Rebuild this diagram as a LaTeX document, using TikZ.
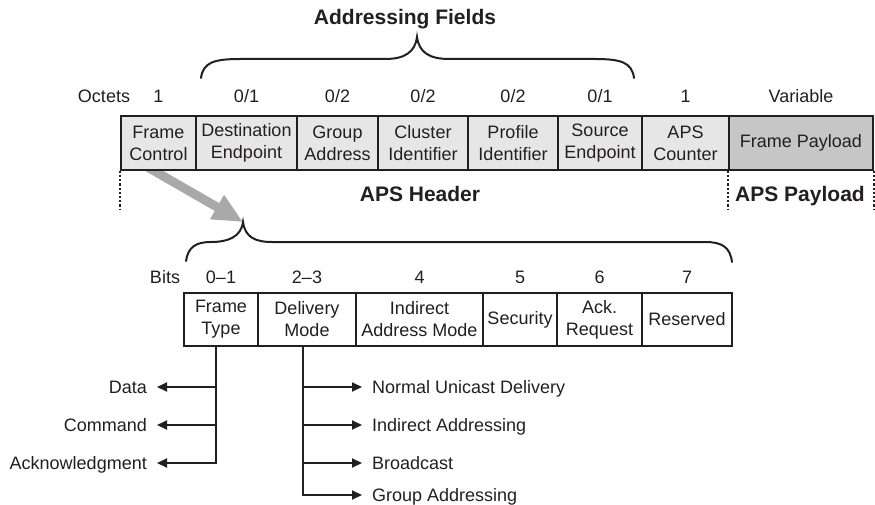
\documentclass[tikz,border=0pt]{standalone}
\usepackage{fontspec}
\setmainfont{Liberation Sans}
\usetikzlibrary{arrows.meta,calc}
\definecolor{ink}{HTML}{231F20}
\definecolor{cellgray}{HTML}{E6E6E6}
\definecolor{paygray}{HTML}{C6C6C6}
\definecolor{arrowgray}{HTML}{A9A9A9}
\begin{document}
\begin{tikzpicture}[x=1pt, y=-1pt, color=ink,
    every node/.style={font=\fontsize{18}{22}\selectfont, text=ink},
    octet/.style={rectangle, draw=ink, line width=1.6pt, fill=cellgray, minimum height=54pt, inner sep=0pt, align=center},
    bitfield/.style={rectangle, draw=ink, line width=1.6pt, fill=white, minimum height=53pt, inner sep=0pt, align=center},
    title/.style={font=\fontsize{21}{25}\selectfont\bfseries, anchor=base},
    size/.style={anchor=base},
    brace/.style={line width=2pt, line cap=round},
    tree/.style={line width=2pt, -{Triangle[length=10pt,width=9pt]}},
    leafl/.style={anchor=east, inner xsep=10pt, inner ysep=0pt, text height=13pt, text depth=0pt},
    leafr/.style={anchor=west, inner xsep=10pt, inner ysep=0pt, text height=13pt, text depth=0pt}
]
\useasboundingbox (0,0) rectangle (875,505);

% Brace tips
\coordinate (bt) at (243,222);
\coordinate (gt) at (137,161);

% Frame Control -> frame control bits
\draw[line width=9pt, arrowgray, -{Triangle[length=30pt,width=26pt]}] (gt) -- (bt);

% APS frame
\node[octet, minimum width=75pt] (fc) at (158.5,143) {Frame\\Control};
\node[octet, minimum width=101pt] (de) at (246.5,143) {Destination\\Endpoint};
\node[octet, minimum width=81pt] (ga) at (337.5,143) {Group\\Address};
\node[octet, minimum width=90pt] (ci) at (423,143) {Cluster\\Identifier};
\node[octet, minimum width=90pt] (pi) at (513,143) {Profile\\Identifier};
\node[octet, minimum width=84pt] (se) at (600,143) {Source\\Endpoint};
\node[octet, minimum width=87pt] (ac) at (685.5,143) {APS\\Counter};
\node[octet, minimum width=144pt, fill=paygray] (fp) at (801,143) {Frame Payload};

% Octet sizes
\node[size] (octets) at (104,103) {Octets};
\node[size] at (fc |- 0,103) {1};
\node[size] at (de |- 0,103) {0/1};
\node[size] at (ga |- 0,103) {0/2};
\node[size] at (ci |- 0,103) {0/2};
\node[size] at (pi |- 0,103) {0/2};
\node[size] at (se |- 0,103) {0/1};
\node[size] at (ac |- 0,103) {1};
\node[size] at (fp |- 0,103) {Variable};

% Header / payload
\draw[dotted, line width=2.2pt] (fc.south west) -- ++(0,38);
\draw[dotted, line width=2.2pt] (fp.south west) -- ++(0,38);
\draw[dotted, line width=2.2pt] (fp.south east) -- ++(0,38);
\node[title] (hdr) at (420,202) {APS Header};
\node[title] (pay) at (800,202) {APS Payload};

% Addressing fields
\node[title] (addr) at (405,25) {Addressing Fields};
\draw[brace] (201,78) .. controls (203,62) and (215,59) .. (240,59) -- (385,59)
  .. controls (405,59) and (415,52) .. (417,37)
  .. controls (419,52) and (429,59) .. (449,59) -- (595,59)
  .. controls (620,59) and (632,62) .. (634,78);

% Frame control field
\draw[brace] (186,261) .. controls (188,247) and (196,242) .. (211,242)
  .. controls (228,242) and (241,237) .. (bt)
  .. controls (245,237) and (255,242) .. (272,242) -- (705,242)
  .. controls (722,242) and (730,247) .. (732,262);

\node[bitfield, minimum width=74pt] (ft) at (221,319.5) {Frame\\Type};
\node[bitfield, minimum width=98pt] (dm) at (307,319.5) {Delivery\\Mode};
\node[bitfield, minimum width=127pt] (ia) at (419.5,319.5) {Indirect\\Address Mode};
\node[bitfield, minimum width=74pt] (sec) at (520,319.5) {Security};
\node[bitfield, minimum width=85pt] (ack) at (599.5,319.5) {Ack.\\Request};
\node[bitfield, minimum width=90pt] (res) at (687,319.5) {Reserved};

% Bit numbers
\node[size] (bits) at (165,283) {Bits};
\node[size] at (ft |- 0,283) {0–1};
\node[size] at (dm |- 0,283) {2–3};
\node[size] at (ia |- 0,283) {4};
\node[size] at (sec |- 0,283) {5};
\node[size] at (ack |- 0,283) {6};
\node[size] at (res |- 0,283) {7};

% Frame type values
\node[leafl] (data) at (157,387) {Data};
\node[leafl] (cmd) at (157,425) {Command};
\node[leafl] (ackn) at (157,463) {Acknowledgment};
\coordinate (ftx) at ([xshift=-5pt]ft.south);
\draw[tree] (ftx) |- (ackn.east);
\foreach \leaf in {data,cmd}
  \draw[tree] (ftx |- \leaf.east) -- (\leaf.east);

% Delivery mode values
\node[leafr] (uni) at (362,387) {Normal Unicast Delivery};
\node[leafr] (ind) at (362,425) {Indirect Addressing};
\node[leafr] (bc) at (362,463) {Broadcast};
\node[leafr] (grp) at (362,495) {Group Addressing};
\coordinate (dmx) at ([xshift=-4pt]dm.south);
\draw[tree] (dmx) |- (grp.west);
\foreach \leaf in {uni,ind,bc}
  \draw[tree] (dmx |- \leaf.west) -- (\leaf.west);
\end{tikzpicture}
\end{document}
